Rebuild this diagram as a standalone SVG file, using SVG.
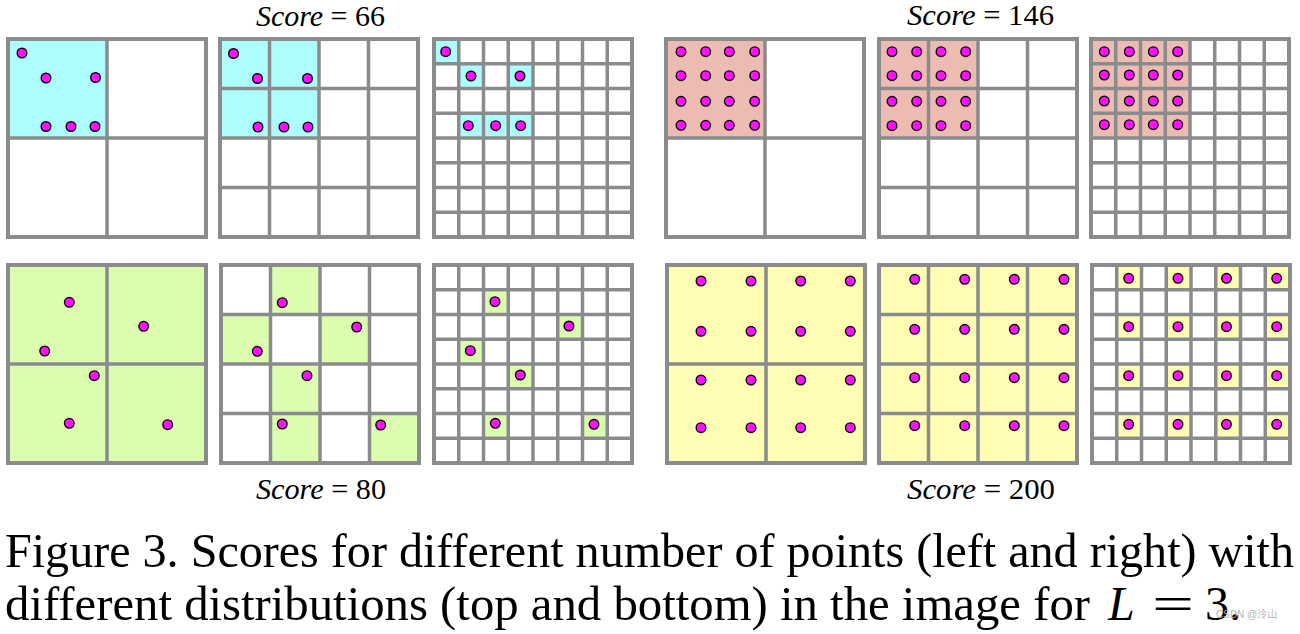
<svg xmlns="http://www.w3.org/2000/svg" xmlns:xlink="http://www.w3.org/1999/xlink" width="1300" height="634" viewBox="0 0 1300 634">
<style>
.g{fill:none;stroke:#8a8b8d;stroke-width:3.5}
.o{fill:none;stroke:#8a8b8d;stroke-width:4}
.cy{fill:#aefdfd}
.sa{fill:#ecbcb3}
.gr{fill:#dcfcb0}
.ye{fill:#fffcb3}
.d{fill:#ff10ff;stroke:#000;stroke-width:1.4}
.t{font-family:"Liberation Serif","Times New Roman",serif;fill:#000}
</style>
<defs>
<g id="grid2"><path class="g" d="M99 0V198M0 99H198"/><rect class="o" x="0" y="0" width="198" height="198"/></g>
<g id="grid4"><path class="g" d="M49.5 0V198M99 0V198M148.5 0V198M0 49.5H198M0 99H198M0 148.5H198"/><rect class="o" x="0" y="0" width="198" height="198"/></g>
<g id="grid8"><path class="g" d="M24.75 0V198M49.5 0V198M74.25 0V198M99 0V198M123.75 0V198M148.5 0V198M173.25 0V198M0 24.75H198M0 49.5H198M0 74.25H198M0 99H198M0 123.75H198M0 148.5H198M0 173.25H198"/><rect class="o" x="0" y="0" width="198" height="198"/></g>
</defs>
<rect width="1300" height="634" fill="#fff"/>

<g id="panel-tl-2">
<rect class="cy" x="8" y="39" width="99" height="99"/>
<use xlink:href="#grid2" href="#grid2" x="8" y="39"/>
<circle class="d" cx="22" cy="53" r="4.8"/><circle class="d" cx="46" cy="78" r="4.8"/><circle class="d" cx="95.5" cy="77.5" r="4.8"/>
<circle class="d" cx="46" cy="126.5" r="4.8"/><circle class="d" cx="71" cy="126.5" r="4.8"/><circle class="d" cx="95" cy="126.5" r="4.8"/>
</g>
<g id="panel-tl-4">
<rect class="cy" x="220" y="39" width="99" height="99"/>
<use xlink:href="#grid4" href="#grid4" x="220" y="39"/>
<circle class="d" cx="233.5" cy="53.5" r="4.8"/><circle class="d" cx="257.5" cy="78.5" r="4.8"/><circle class="d" cx="307.5" cy="78.5" r="4.8"/>
<circle class="d" cx="258" cy="127" r="4.8"/><circle class="d" cx="284" cy="127" r="4.8"/><circle class="d" cx="308" cy="127" r="4.8"/>
</g>
<g id="panel-tl-8">
<rect class="cy" x="434" y="39" width="24.75" height="24.75"/>
<rect class="cy" x="458.75" y="63.75" width="24.75" height="24.75"/>
<rect class="cy" x="508.25" y="63.75" width="24.75" height="24.75"/>
<rect class="cy" x="458.75" y="113.25" width="74.25" height="24.75"/>
<use xlink:href="#grid8" href="#grid8" x="434" y="39"/>
<circle class="d" cx="445.7" cy="51.7" r="4.8"/><circle class="d" cx="471" cy="76" r="4.8"/><circle class="d" cx="520" cy="76" r="4.8"/>
<circle class="d" cx="468.3" cy="125.7" r="4.8"/><circle class="d" cx="495.7" cy="125.7" r="4.8"/><circle class="d" cx="520.7" cy="125.7" r="4.8"/>
</g>

<g id="panel-tr-2">
<rect class="sa" x="666" y="39" width="99" height="99"/>
<use xlink:href="#grid2" href="#grid2" x="666" y="39"/>
<circle class="d" cx="681" cy="51.7" r="4.8"/><circle class="d" cx="705.7" cy="51.7" r="4.8"/><circle class="d" cx="729.3" cy="51.7" r="4.8"/><circle class="d" cx="754.7" cy="51.7" r="4.8"/>
<circle class="d" cx="681" cy="75.7" r="4.8"/><circle class="d" cx="705.7" cy="75.7" r="4.8"/><circle class="d" cx="729.3" cy="75.7" r="4.8"/><circle class="d" cx="754.7" cy="75.7" r="4.8"/>
<circle class="d" cx="681" cy="101.3" r="4.8"/><circle class="d" cx="705.7" cy="101.3" r="4.8"/><circle class="d" cx="729.3" cy="101.3" r="4.8"/><circle class="d" cx="754.7" cy="101.3" r="4.8"/>
<circle class="d" cx="681" cy="125.3" r="4.8"/><circle class="d" cx="705.7" cy="125.3" r="4.8"/><circle class="d" cx="729.3" cy="125.3" r="4.8"/><circle class="d" cx="754.7" cy="125.3" r="4.8"/>
</g>
<g id="panel-tr-4">
<rect class="sa" x="879" y="39" width="99" height="99"/>
<use xlink:href="#grid4" href="#grid4" x="879" y="39"/>
<circle class="d" cx="892" cy="51.7" r="4.8"/><circle class="d" cx="916.7" cy="51.7" r="4.8"/><circle class="d" cx="941" cy="51.7" r="4.8"/><circle class="d" cx="965.7" cy="51.7" r="4.8"/>
<circle class="d" cx="892" cy="75.7" r="4.8"/><circle class="d" cx="916.7" cy="75.7" r="4.8"/><circle class="d" cx="941" cy="75.7" r="4.8"/><circle class="d" cx="965.7" cy="75.7" r="4.8"/>
<circle class="d" cx="892" cy="101.3" r="4.8"/><circle class="d" cx="916.7" cy="101.3" r="4.8"/><circle class="d" cx="941" cy="101.3" r="4.8"/><circle class="d" cx="965.7" cy="101.3" r="4.8"/>
<circle class="d" cx="892" cy="125.7" r="4.8"/><circle class="d" cx="916.7" cy="125.7" r="4.8"/><circle class="d" cx="941" cy="125.7" r="4.8"/><circle class="d" cx="965.7" cy="125.7" r="4.8"/>
</g>
<g id="panel-tr-8">
<rect class="sa" x="1091" y="39" width="99" height="99"/>
<use xlink:href="#grid8" href="#grid8" x="1091" y="39"/>
<circle class="d" cx="1104.3" cy="51.7" r="4.8"/><circle class="d" cx="1129.3" cy="51.7" r="4.8"/><circle class="d" cx="1153.3" cy="51.7" r="4.8"/><circle class="d" cx="1177.7" cy="51.7" r="4.8"/>
<circle class="d" cx="1104.3" cy="75" r="4.8"/><circle class="d" cx="1129.3" cy="75" r="4.8"/><circle class="d" cx="1153.3" cy="75" r="4.8"/><circle class="d" cx="1177.7" cy="75" r="4.8"/>
<circle class="d" cx="1104.3" cy="101" r="4.8"/><circle class="d" cx="1129.3" cy="101" r="4.8"/><circle class="d" cx="1153.3" cy="101" r="4.8"/><circle class="d" cx="1177.7" cy="101" r="4.8"/>
<circle class="d" cx="1104.3" cy="124.7" r="4.8"/><circle class="d" cx="1129.3" cy="124.7" r="4.8"/><circle class="d" cx="1153.3" cy="124.7" r="4.8"/><circle class="d" cx="1177.7" cy="124.7" r="4.8"/>
</g>

<g id="panel-bl-2">
<rect class="gr" x="8" y="265" width="198" height="198"/>
<use xlink:href="#grid2" href="#grid2" x="8" y="265"/>
<circle class="d" cx="69.3" cy="302.3" r="4.8"/><circle class="d" cx="44.7" cy="351" r="4.8"/><circle class="d" cx="143.7" cy="326.3" r="4.8"/>
<circle class="d" cx="94.3" cy="375.7" r="4.8"/><circle class="d" cx="69.3" cy="423.3" r="4.8"/><circle class="d" cx="167.7" cy="424.7" r="4.8"/>
</g>
<g id="panel-bl-4">
<rect class="gr" x="270.5" y="265" width="49.5" height="49.5"/>
<rect class="gr" x="221" y="314.5" width="49.5" height="49.5"/>
<rect class="gr" x="320" y="314.5" width="49.5" height="49.5"/>
<rect class="gr" x="270.5" y="364" width="49.5" height="99"/>
<rect class="gr" x="369.5" y="413.5" width="49.5" height="49.5"/>
<use xlink:href="#grid4" href="#grid4" x="221" y="265"/>
<circle class="d" cx="282.3" cy="302.7" r="4.8"/><circle class="d" cx="257.3" cy="351.3" r="4.8"/><circle class="d" cx="356.7" cy="327" r="4.8"/>
<circle class="d" cx="307" cy="375.7" r="4.8"/><circle class="d" cx="282.3" cy="424" r="4.8"/><circle class="d" cx="380.7" cy="425" r="4.8"/>
</g>
<g id="panel-bl-8">
<rect class="gr" x="483.5" y="289.75" width="24.75" height="24.75"/>
<rect class="gr" x="557.75" y="314.5" width="24.75" height="24.75"/>
<rect class="gr" x="458.75" y="339.25" width="24.75" height="24.75"/>
<rect class="gr" x="508.25" y="364" width="24.75" height="24.75"/>
<rect class="gr" x="483.5" y="413.5" width="24.75" height="24.75"/>
<rect class="gr" x="582.5" y="413.5" width="24.75" height="24.75"/>
<use xlink:href="#grid8" href="#grid8" x="434" y="265"/>
<circle class="d" cx="495" cy="301.7" r="4.8"/><circle class="d" cx="569" cy="326" r="4.8"/><circle class="d" cx="470.3" cy="350.7" r="4.8"/>
<circle class="d" cx="520.3" cy="375" r="4.8"/><circle class="d" cx="495.3" cy="423.3" r="4.8"/><circle class="d" cx="594" cy="424.3" r="4.8"/>
</g>

<g id="panel-br-2">
<rect class="ye" x="667" y="265" width="198" height="198"/>
<use xlink:href="#grid2" href="#grid2" x="667" y="265"/>
<circle class="d" cx="701" cy="281" r="4.8"/><circle class="d" cx="751" cy="281" r="4.8"/><circle class="d" cx="800.7" cy="281" r="4.8"/><circle class="d" cx="850.3" cy="281" r="4.8"/>
<circle class="d" cx="701" cy="331.3" r="4.8"/><circle class="d" cx="751" cy="331.3" r="4.8"/><circle class="d" cx="800.7" cy="331.3" r="4.8"/><circle class="d" cx="850.3" cy="331.3" r="4.8"/>
<circle class="d" cx="701" cy="380" r="4.8"/><circle class="d" cx="751" cy="380" r="4.8"/><circle class="d" cx="800.7" cy="380" r="4.8"/><circle class="d" cx="850.3" cy="380" r="4.8"/>
<circle class="d" cx="701" cy="427.7" r="4.8"/><circle class="d" cx="751" cy="427.7" r="4.8"/><circle class="d" cx="800.7" cy="427.7" r="4.8"/><circle class="d" cx="850.3" cy="427.7" r="4.8"/>
</g>
<g id="panel-br-4">
<rect class="ye" x="879" y="265" width="198" height="198"/>
<use xlink:href="#grid4" href="#grid4" x="879" y="265"/>
<circle class="d" cx="914.7" cy="279.3" r="4.8"/><circle class="d" cx="964.7" cy="279.3" r="4.8"/><circle class="d" cx="1014.3" cy="279.3" r="4.8"/><circle class="d" cx="1064" cy="279.3" r="4.8"/>
<circle class="d" cx="914.7" cy="329.3" r="4.8"/><circle class="d" cx="964.7" cy="329.3" r="4.8"/><circle class="d" cx="1014.3" cy="329.3" r="4.8"/><circle class="d" cx="1064" cy="329.3" r="4.8"/>
<circle class="d" cx="914.7" cy="377.7" r="4.8"/><circle class="d" cx="964.7" cy="377.7" r="4.8"/><circle class="d" cx="1014.3" cy="377.7" r="4.8"/><circle class="d" cx="1064" cy="377.7" r="4.8"/>
<circle class="d" cx="914.7" cy="425.7" r="4.8"/><circle class="d" cx="964.7" cy="425.7" r="4.8"/><circle class="d" cx="1014.3" cy="425.7" r="4.8"/><circle class="d" cx="1064" cy="425.7" r="4.8"/>
</g>
<g id="panel-br-8">
<rect class="ye" x="1116.75" y="265" width="24.75" height="24.75"/><rect class="ye" x="1166.25" y="265" width="24.75" height="24.75"/><rect class="ye" x="1215.75" y="265" width="24.75" height="24.75"/><rect class="ye" x="1265.25" y="265" width="24.75" height="24.75"/>
<rect class="ye" x="1116.75" y="314.5" width="24.75" height="24.75"/><rect class="ye" x="1166.25" y="314.5" width="24.75" height="24.75"/><rect class="ye" x="1215.75" y="314.5" width="24.75" height="24.75"/><rect class="ye" x="1265.25" y="314.5" width="24.75" height="24.75"/>
<rect class="ye" x="1116.75" y="364" width="24.75" height="24.75"/><rect class="ye" x="1166.25" y="364" width="24.75" height="24.75"/><rect class="ye" x="1215.75" y="364" width="24.75" height="24.75"/><rect class="ye" x="1265.25" y="364" width="24.75" height="24.75"/>
<rect class="ye" x="1116.75" y="413.5" width="24.75" height="24.75"/><rect class="ye" x="1166.25" y="413.5" width="24.75" height="24.75"/><rect class="ye" x="1215.75" y="413.5" width="24.75" height="24.75"/><rect class="ye" x="1265.25" y="413.5" width="24.75" height="24.75"/>
<use xlink:href="#grid8" href="#grid8" x="1092" y="265"/>
<circle class="d" cx="1128.7" cy="278.3" r="4.8"/><circle class="d" cx="1178" cy="278.3" r="4.8"/><circle class="d" cx="1226.5" cy="278.3" r="4.8"/><circle class="d" cx="1276.7" cy="278.3" r="4.8"/>
<circle class="d" cx="1128.7" cy="326.7" r="4.8"/><circle class="d" cx="1178" cy="326.7" r="4.8"/><circle class="d" cx="1226.5" cy="326.7" r="4.8"/><circle class="d" cx="1276.7" cy="326.7" r="4.8"/>
<circle class="d" cx="1128.7" cy="375.7" r="4.8"/><circle class="d" cx="1178" cy="375.7" r="4.8"/><circle class="d" cx="1226.5" cy="375.7" r="4.8"/><circle class="d" cx="1276.7" cy="375.7" r="4.8"/>
<circle class="d" cx="1128.7" cy="424.3" r="4.8"/><circle class="d" cx="1178" cy="424.3" r="4.8"/><circle class="d" cx="1226.5" cy="424.3" r="4.8"/><circle class="d" cx="1276.7" cy="424.3" r="4.8"/>
</g>

<g id="labels">
<text class="t" x="256" y="26" font-size="29" textLength="129" lengthAdjust="spacingAndGlyphs"><tspan font-style="italic">Score</tspan> = 66</text>
<text class="t" x="907" y="25" font-size="29" textLength="147" lengthAdjust="spacingAndGlyphs"><tspan font-style="italic">Score</tspan> = 146</text>
<text class="t" x="256" y="499" font-size="29" textLength="130" lengthAdjust="spacingAndGlyphs"><tspan font-style="italic">Score</tspan> = 80</text>
<text class="t" x="907" y="499" font-size="29" textLength="148" lengthAdjust="spacingAndGlyphs"><tspan font-style="italic">Score</tspan> = 200</text>
</g>
<g id="caption">
<text class="t" x="5" y="567" font-size="48" textLength="1289" lengthAdjust="spacingAndGlyphs">Figure 3. Scores for different number of points (left and right) with</text>
<text class="t" x="5" y="620" font-size="48" textLength="1085" lengthAdjust="spacingAndGlyphs">different distributions (top and bottom) in the image for</text>
<text class="t" x="1108" y="620" font-size="48" font-style="italic">L</text>
<text class="t" x="1152" y="620" font-size="48" textLength="42" lengthAdjust="spacingAndGlyphs">=</text>
<text class="t" x="1205" y="620" font-size="48">3.</text>
<text x="1216" y="618" font-size="10" fill="#b4b4b4" font-family="'Liberation Sans','Noto Sans CJK SC',sans-serif">CSDN @泠山</text>
</g>
</svg>
